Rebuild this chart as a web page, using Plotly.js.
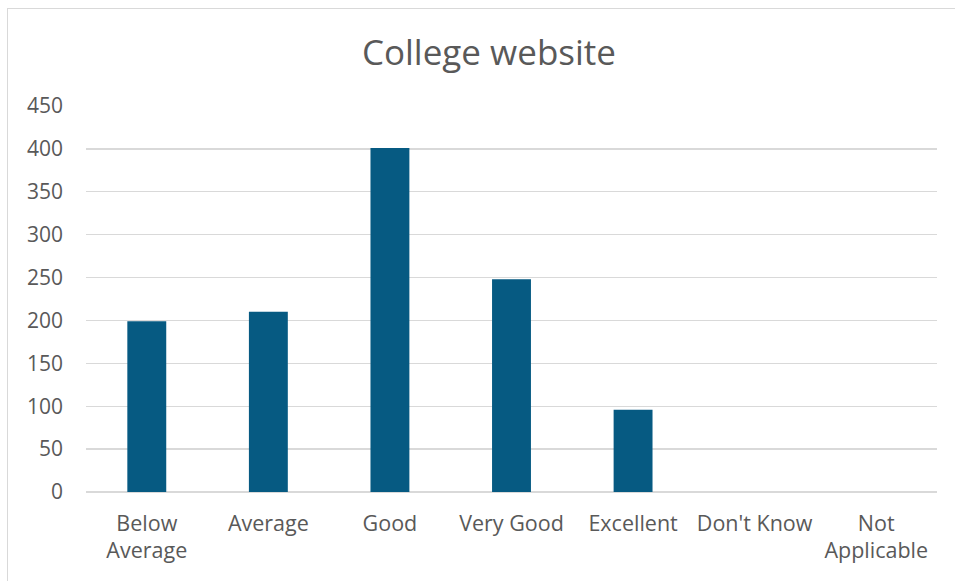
<!DOCTYPE html>
<html>
<head>
<meta charset="utf-8">
<script src="https://cdn.plot.ly/plotly-3.0.1.min.js"></script>
<style>
  html, body { margin: 0; padding: 0; background: #ffffff; }
  #wrap { position: relative; width: 955px; height: 581px; overflow: hidden; }
  #frame { position: absolute; left: 7px; top: 8px; width: 960px; height: 590px;
           border-left: 1.5px solid #d9d9d9; border-top: 1.5px solid #d9d9d9; pointer-events: none; }
  #chart { position: absolute; left: 0; top: 0; width: 955px; height: 581px; }
</style>
</head>
<body>
<div id="wrap">
  <div id="chart"></div>
  <div id="frame"></div>
</div>
<script>
const categories = ["Below<br>Average", "Average", "Good", "Very Good", "Excellent", "Don't Know", "Not<br>Applicable"];
const values = [199, 210, 401, 248, 96, 0, 0];
const yTicks = [0, 50, 100, 150, 200, 250, 300, 350, 400, 450];
const chartTitle = "College website";

const trace = {
  type: "bar",
  x: categories,
  y: values,
  marker: { color: "#065A82" },
  hoverinfo: "x+y"
};

const fontFamily = "'Open Sans', sans-serif";

const layout = {
  width: 955,
  height: 581,
  margin: { l: 86, r: 18, t: 106, b: 89 },
  paper_bgcolor: "rgba(0,0,0,0)",
  plot_bgcolor: "#ffffff",
  showlegend: false,
  bargap: 0.68,
  title: {
    text: chartTitle,
    font: { family: fontFamily, size: 35, color: "#595959" },
    x: 0.512,
    xanchor: "center",
    y: 0.91,
    yanchor: "middle"
  },
  xaxis: {
    type: "category",
    tickfont: { family: fontFamily, size: 21.5, color: "#595959" },
    showgrid: false,
    showline: false,
    ticks: "",
    ticklabelstandoff: 16,
    fixedrange: true
  },
  yaxis: {
    range: [0, 450],
    tickvals: yTicks,
    ticktext: yTicks.map(String),
    tickfont: { family: fontFamily, size: 21, color: "#595959" },
    showgrid: true,
    gridcolor: "#d9d9d9",
    gridwidth: 1.3,
    zeroline: true,
    zerolinecolor: "#d9d9d9",
    zerolinewidth: 1.3,
    showline: false,
    ticks: "",
    ticklabelstandoff: 22,
    fixedrange: true
  }
};

Plotly.newPlot("chart", [trace], layout, { displayModeBar: false, staticPlot: true });
</script>
</body>
</html>
